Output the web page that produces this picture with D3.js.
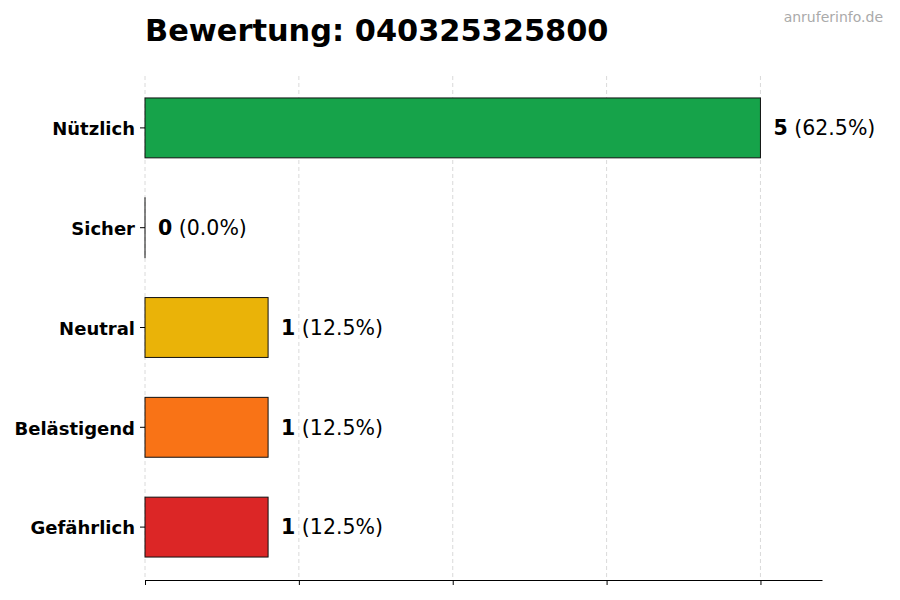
<!DOCTYPE html>
<html>
<head>
<meta charset="utf-8">
<script src="https://cdn.jsdelivr.net/npm/d3@7"></script>
<style>
  body { margin: 0; background: #fff; }
  text { font-family: "DejaVu Sans", sans-serif; }
</style>
</head>
<body>
<svg id="chart" width="900" height="600"></svg>
<script>
var categories = ["Nützlich", "Sicher", "Neutral", "Belästigend", "Gefährlich"];
var counts = [5, 0, 1, 1, 1];
var percents = ["62.5%", "0.0%", "12.5%", "12.5%", "12.5%"];
var colors = ["#16a34a", "#16a34a", "#eab308", "#f97316", "#dc2626"];
var xTicks = [0, 1.25, 2.5, 3.75, 5];
var phone = "040325325800";

var svg = d3.select("#chart");
var pLeft = 145, pRight = 822, pTop = 76, pBottom = 580;

var x = d3.scaleLinear().domain([0, 5.5]).range([pLeft, pRight]);
var y = d3.scaleBand().domain(categories).range([78, 577]).paddingInner(0.4).paddingOuter(0.2);

// grid
svg.append("g").selectAll("line")
  .data(xTicks)
  .enter().append("line")
  .attr("x1", function(d) { return x(d); })
  .attr("x2", function(d) { return x(d); })
  .attr("y1", pTop)
  .attr("y2", pBottom)
  .attr("stroke", "#d0d0d0")
  .attr("stroke-width", 0.8)
  .attr("stroke-dasharray", "4,3");

// bars
svg.append("g").selectAll("rect")
  .data(counts)
  .enter().append("rect")
  .attr("x", x(0))
  .attr("y", function(d, i) { return y(categories[i]); })
  .attr("width", function(d) { return Math.max(x(d) - x(0), 0.01); })
  .attr("height", y.bandwidth())
  .attr("fill", function(d, i) { return colors[i]; })
  .attr("stroke", "#111")
  .attr("stroke-width", 1);

// value labels
var lab = svg.append("g").selectAll("text")
  .data(counts)
  .enter().append("text")
  .attr("x", function(d) { return x(d) + 13; })
  .attr("y", function(d, i) { return y(categories[i]) + y.bandwidth() / 2; })
  .attr("dy", "0.36em")
  .attr("font-size", 20.5)
  .attr("fill", "#000");
lab.append("tspan").attr("font-weight", "bold").text(function(d) { return d; });
lab.append("tspan").text(function(d, i) { return " (" + percents[i] + ")"; });

// x axis
var xAxis = svg.append("g")
  .attr("transform", "translate(0," + pBottom + ")")
  .call(d3.axisBottom(x).tickValues(xTicks).tickFormat("").tickSize(5).tickSizeOuter(0));
xAxis.select(".domain").attr("stroke", "#000").attr("stroke-width", 1.2);
xAxis.selectAll(".tick line").attr("stroke", "#000");

// y axis (ticks only)
var yAxis = svg.append("g")
  .attr("transform", "translate(" + pLeft + ",0)")
  .call(d3.axisLeft(y).tickSize(5).tickPadding(5));
yAxis.select(".domain").remove();
yAxis.selectAll(".tick line").attr("stroke", "#000");
yAxis.selectAll(".tick text")
  .attr("font-family", "DejaVu Sans, sans-serif")
  .attr("font-size", 18)
  .attr("font-weight", "bold")
  .attr("dy", "0.4em")
  .attr("fill", "#000");

// title
svg.append("text")
  .attr("x", pLeft)
  .attr("y", 41)
  .attr("font-size", 30.4)
  .attr("font-weight", "bold")
  .attr("fill", "#000")
  .text("Bewertung: " + phone);

svg.append("text")
  .attr("x", 883)
  .attr("y", 22)
  .attr("text-anchor", "end")
  .attr("font-size", 14)
  .attr("fill", "#aaaaaa")
  .text("anruferinfo.de");
</script>
</body>
</html>
